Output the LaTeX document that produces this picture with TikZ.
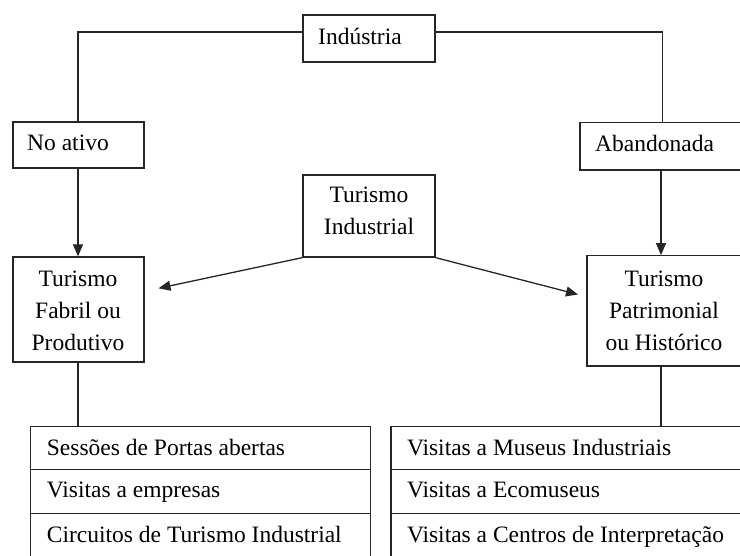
\documentclass[tikz,border=0pt]{standalone}
\usepackage{fontspec}
\setmainfont{Liberation Serif}
\usetikzlibrary{arrows.meta}
\begin{document}
\begin{tikzpicture}[x=1pt,y=-1pt,
  box/.style={draw=black!85, line width=1.3pt, inner sep=0pt},
  txt/.style={inner sep=0pt, font=\fontsize{23.5}{31.5}\selectfont},
  conn/.style={draw=black!85, line width=1.3pt},
  arr/.style={conn, -{Triangle[length=12pt,width=10pt]}}]
\useasboundingbox (0,0) rectangle (740,556);
\clip (0,0) rectangle (740,556);
\fill[white] (0,0) rectangle (740,556);
% boxes
\node[box, minimum width=132pt, minimum height=47pt] (ind) at (369,38.5) {};
\node[txt, anchor=base west] (indT) at (318,44.3) {Indústria};
\node[box, minimum width=131pt, minimum height=46pt] (noat) at (78.5,145) {};
\node[txt, anchor=base west] (noatT) at (27,150.7) {No ativo};
\node[box, minimum width=180pt, minimum height=47.7pt] (aband) at (670,146.2) {};
\node[txt, anchor=base west] (abandT) at (595,151.7) {Abandonada};
\node[box, minimum width=132pt, minimum height=82pt] (ti) at (369,216) {};
\node[txt, anchor=base] (tiA) at (369,203) {Turismo};
\node[txt, anchor=base] (tiB) at (369,235) {Industrial};
\node[box, minimum width=131pt, minimum height=105pt] (fab) at (78.5,309.5) {};
\node[txt, anchor=base] (fabA) at (78,287) {Turismo};
\node[txt, anchor=base] (fabB) at (78,319) {Fabril ou};
\node[txt, anchor=base] (fabC) at (78,350.5) {Produtivo};
\node[box, minimum width=154pt, minimum height=110.3pt] (pat) at (664,310.9) {};
\node[txt, anchor=base] (patA) at (664,287) {Turismo};
\node[txt, anchor=base] (patB) at (664,319) {Patrimonial};
\node[txt, anchor=base] (patC) at (664,350.5) {ou Histórico};
% left table
\node[box, minimum width=340.2pt, minimum height=42.8pt] (l1) at (200.6,447.9) {};
\node[box, minimum width=340.2pt, minimum height=44.2pt] (l2) at (200.6,491.4) {};
\node[box, minimum width=340.2pt, minimum height=44pt] (l3) at (200.6,535.5) {};
\node[txt, anchor=base west] (l1T) at (46.7,455.5) {Sessões de Portas abertas};
\node[txt, anchor=base west] (l2T) at (46.7,497) {Visitas a empresas};
\node[txt, anchor=base west] (l3T) at (46.7,542) {Circuitos de Turismo Industrial};
% right table
\node[box, minimum width=379pt, minimum height=42.8pt] (r1) at (580.5,447.9) {};
\node[box, minimum width=379pt, minimum height=44.2pt] (r2) at (580.5,491.4) {};
\node[box, minimum width=379pt, minimum height=44pt] (r3) at (580.5,535.5) {};
\node[txt, anchor=base west] (r1T) at (406.8,455.5) {Visitas a Museus Industriais};
\node[txt, anchor=base west] (r2T) at (406.8,497) {Visitas a Ecomuseus};
\node[txt, anchor=base west] (r3T) at (406.8,542) {Visitas a Centros de Interpretação};
% connectors
\coordinate (tl) at (78,32);
\coordinate (tr) at (662.5,32);
\coordinate (rx) at (661,0);
\coordinate (al) at (158.5,288.3);
\coordinate (ar) at (578,294.5);
\draw[conn] (ind.west |- tl) -- (tl) -- (noat.north -| tl);
\draw[conn] (ind.east |- tr) -- (tr) -- (aband.north -| tr);
\draw[arr] (noat.south -| tl) -- (fab.north -| tl);
\draw[arr] (aband.south -| rx) -- (pat.north -| rx);
\draw[arr] (ti.south west) -- (al);
\draw[arr] (ti.south east) -- (ar);
\draw[conn] (fab.south -| tl) -- (l1.north -| tl);
\draw[conn] (pat.south -| rx) -- (r1.north -| rx);
\end{tikzpicture}
\end{document}
